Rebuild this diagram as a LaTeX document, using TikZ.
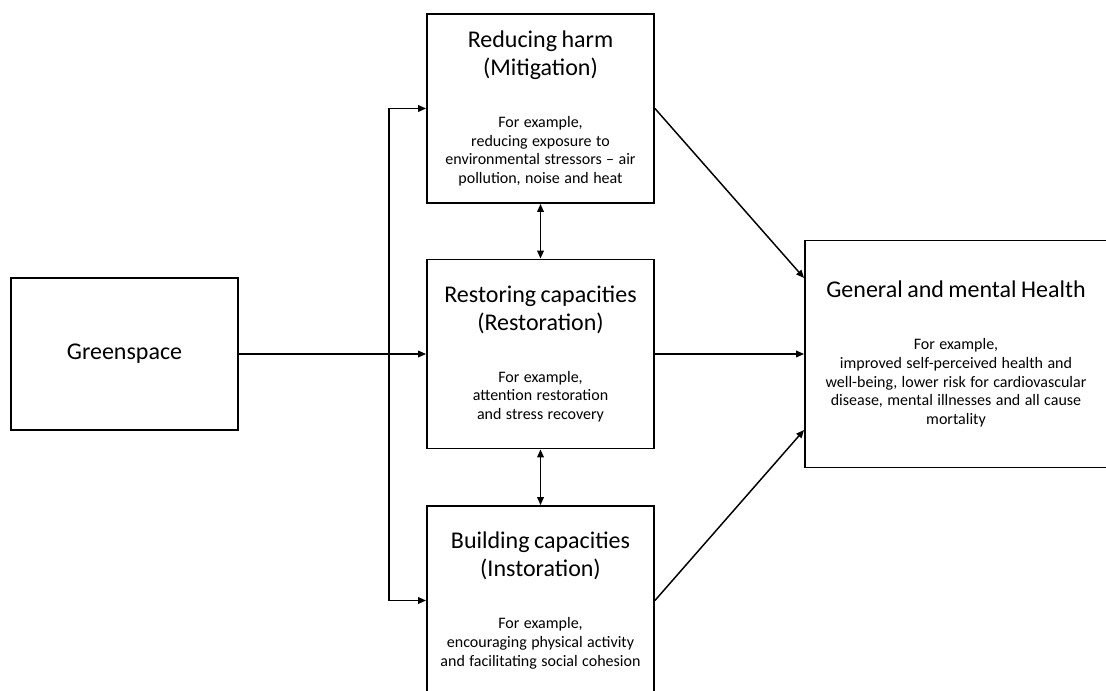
\documentclass[tikz,border=0pt]{standalone}
\usepackage{fontspec}
\setmainfont{Carlito}
\usetikzlibrary{arrows.meta,positioning,calc}

\tikzset{
    box/.style={draw, line width=1.4pt, align=center, inner sep=0pt, text width=168pt,
        minimum width=170.25pt, minimum height=141.75pt},
    link/.style={line width=1.1pt, -{Triangle[length=6pt,width=5pt]}},
    twoway/.style={line width=1.1pt, {Triangle[length=6pt,width=5pt]}-{Triangle[length=6pt,width=5pt]}},
}
\newcommand{\ttl}{\fontsize{18}{20.8}\selectfont}
\newcommand{\sml}{\fontsize{12}{14.1}\selectfont}
% title block, then example block
\newcommand{\boxtext}[2]{\ttl #1\par\vspace{25pt}\sml #2\par}

\begin{document}
\begin{tikzpicture}[x=0.75pt, y=-0.75pt]
    \useasboundingbox (0,0) rectangle (1106,691);

    % source
    \node[box, minimum height=114pt] (gs) at (124.5,354) {\ttl Greenspace\par};

    % pathways
    \node[box] (mitig) at (540.5,108.5) {\boxtext{Reducing harm\\(Mitigation)}{For example,\\reducing exposure to\\environmental stressors -- air\\pollution, noise and heat}};
    \node[box] (restor) at (540.5,354) {\boxtext{Restoring capacities\\(Restoration)}{For example,\\attention restoration\\and stress recovery}};
    \node[box] (build) at (540.5,600.5) {\boxtext{Building capacities\\(Instoration)}{For example,\\encouraging physical activity\\and facilitating social cohesion}};

    % outcome
    \node[box, text width=224pt, minimum width=226.5pt, minimum height=170.25pt] (health) at (956,354) {\boxtext{General and mental Health}{For example,\\improved self-perceived health and\\well-being, lower risk for cardiovascular\\disease, mental illnesses and all cause\\mortality}};

    % connectors
    \coordinate (branch) at (389,354);
    \draw[link] (gs.east |- branch) -- (restor.west);
    \draw[link] (branch) |- (mitig.west);
    \draw[link] (branch) |- (build.west);
    \draw[twoway] (mitig) -- (restor);
    \draw[twoway] (restor) -- (build);
    \draw[link] (mitig.east) -- ([yshift=57pt]health.west);
    \draw[link] (restor.east) -- (health.west);
    \draw[link] (build.east) -- ([yshift=-57pt]health.west);
\end{tikzpicture}
\end{document}
